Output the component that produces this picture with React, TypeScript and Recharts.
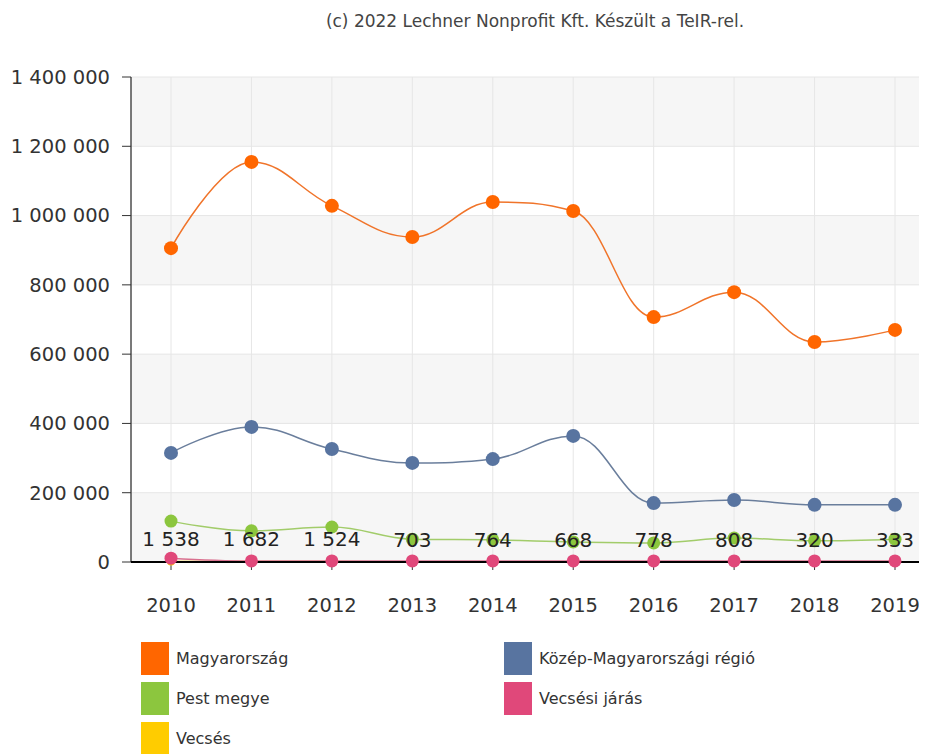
import React from 'react';
import { LineChart, Line, XAxis, YAxis, CartesianGrid, LabelList } from 'recharts';

const years = ['2010', '2011', '2012', '2013', '2014', '2015', '2016', '2017', '2018', '2019'];
const magyarorszag = [906000, 1155000, 1028000, 938000, 1039000, 1013000, 707000, 779000, 635000, 670000];
const kozepMagyar = [315000, 390000, 326000, 286000, 297000, 364000, 170000, 179000, 165000, 165000];
const pestMegye = [118000, 90000, 101000, 66000, 64000, 58000, 55000, 69000, 61000, 66000];
const vecsesiJaras = [11000, 3000, 3000, 3000, 3000, 3000, 3000, 3000, 3000, 3000];
const vecses = [1538, 1682, 1524, 703, 764, 668, 778, 808, 320, 333];
const yTicks = [0, 200000, 400000, 600000, 800000, 1000000, 1200000, 1400000];

const seriesNames = ['Magyarország', 'Közép-Magyarországi régió', 'Pest megye', 'Vecsési járás', 'Vecsés'];
const seriesColors = ['#FF6600', '#5874A0', '#8CC63E', '#E0487A', '#FFCC00'];

const data = years.map((y, i) => ({
  year: y,
  mo: magyarorszag[i],
  km: kozepMagyar[i],
  pm: pestMegye[i],
  vj: vecsesiJaras[i],
  v: vecses[i],
}));

const FONT = "'DejaVu Sans', sans-serif";

const fmt = (v: number) => String(v).replace(/\B(?=(\d{3})+(?!\d))/g, ' ');

// Highcharts-like spline curve
function hcSpline(context: any) {
  let pts: [number, number][] = [];
  return {
    areaStart() {},
    areaEnd() {},
    lineStart() {
      pts = [];
    },
    lineEnd() {
      const n = pts.length;
      if (!n) return;
      const sm = 1.5;
      const den = sm + 1;
      const rc: ([number, number] | undefined)[] = [];
      context.moveTo(pts[0][0], pts[0][1]);
      for (let i = 1; i < n; i++) {
        const [px, py] = pts[i];
        let left: [number, number] = [px, py];
        if (i < n - 1) {
          const [lx, ly] = pts[i - 1];
          const [nx, ny] = pts[i + 1];
          const lcx = (sm * px + lx) / den;
          let lcy = (sm * py + ly) / den;
          const rcx = (sm * px + nx) / den;
          let rcy = (sm * py + ny) / den;
          let corr = 0;
          if (rcx !== lcx) {
            corr = ((rcy - lcy) * (rcx - px)) / (rcx - lcx) + py - rcy;
          }
          lcy += corr;
          rcy += corr;
          if (lcy > ly && lcy > py) {
            lcy = Math.max(ly, py);
            rcy = 2 * py - lcy;
          } else if (lcy < ly && lcy < py) {
            lcy = Math.min(ly, py);
            rcy = 2 * py - lcy;
          }
          if (rcy > ny && rcy > py) {
            rcy = Math.max(ny, py);
            lcy = 2 * py - rcy;
          } else if (rcy < ny && rcy < py) {
            rcy = Math.min(ny, py);
            lcy = 2 * py - rcy;
          }
          left = [lcx, lcy];
          rc[i] = [rcx, rcy];
        }
        const prev = rc[i - 1] ?? pts[i - 1];
        context.bezierCurveTo(prev[0], prev[1], left[0], left[1], px, py);
      }
    },
    point(x: number, y: number) {
      pts.push([+x, +y]);
    },
  };
}

const dotFor = (color: string, r: number) => ({ r, fill: color, stroke: 'none', strokeWidth: 0 });

const legendRows = [
  { name: seriesNames[0], color: seriesColors[0], col: 0, row: 0 },
  { name: seriesNames[1], color: seriesColors[1], col: 1, row: 0 },
  { name: seriesNames[2], color: seriesColors[2], col: 0, row: 1 },
  { name: seriesNames[3], color: seriesColors[3], col: 1, row: 1 },
  { name: seriesNames[4], color: seriesColors[4], col: 0, row: 2 },
];

export default function App() {
  return (
    <div
      style={{
        position: 'relative',
        marginLeft: -8,
        marginTop: -8,
        width: 927,
        height: 754,
        overflow: 'hidden',
        background: '#fff',
        fontFamily: FONT,
      }}
    >
      <div
        style={{
          position: 'absolute',
          left: 0,
          width: 1070,
          top: 10,
          lineHeight: '22px',
          textAlign: 'center',
          fontSize: 17,
          color: '#444',
          whiteSpace: 'nowrap',
        }}
      >
        (c) 2022 Lechner Nonprofit Kft. Készült a TeIR-rel.
      </div>
      <div style={{ position: 'absolute', left: 0, top: 0 }}>
        <LineChart width={935} height={754} data={data} margin={{ top: 77, right: 0, bottom: 132, left: 0 }}>
          <CartesianGrid
            stroke="#E6E6E6"
            horizontalFill={['#F6F6F6', '#FFFFFF']}
            fillOpacity={1}
          />
          <XAxis
            dataKey="year"
            height={60}
            padding={{ left: 40, right: 40 }}
            axisLine={{ stroke: '#000', strokeWidth: 2 }}
            tickLine={{ stroke: '#333' }}
            tickSize={8}
            tickMargin={28}
            tick={{ fill: '#333', fontSize: 19.5, fontFamily: FONT }}
            interval={0}
          />
          <YAxis
            width={131}
            domain={[0, 1400000]}
            ticks={yTicks}
            interval={0}
            axisLine={{ stroke: '#000', strokeWidth: 1 }}
            tickLine={{ stroke: '#333' }}
            tickSize={9}
            tickMargin={12}
            tick={{ fill: '#333', fontSize: 19.5, fontFamily: FONT }}
            tickFormatter={fmt}
          />
          <Line
            dataKey="mo"
            name={seriesNames[0]}
            type={hcSpline as any}
            stroke="#F0742A"
            strokeWidth={1.5}
            dot={dotFor(seriesColors[0], 7)}
            activeDot={false}
            isAnimationActive={false}
          />
          <Line
            dataKey="km"
            name={seriesNames[1]}
            type={hcSpline as any}
            stroke="#6A7E9C"
            strokeWidth={1.5}
            dot={dotFor(seriesColors[1], 7)}
            activeDot={false}
            isAnimationActive={false}
          />
          <Line
            dataKey="pm"
            name={seriesNames[2]}
            type={hcSpline as any}
            stroke="#A2CC6A"
            strokeWidth={1.5}
            dot={dotFor(seriesColors[2], 6.5)}
            activeDot={false}
            isAnimationActive={false}
          />
          <Line
            dataKey="v"
            name={seriesNames[4]}
            type={hcSpline as any}
            stroke={seriesColors[4]}
            strokeWidth={1.5}
            dot={dotFor(seriesColors[4], 4)}
            activeDot={false}
            isAnimationActive={false}
          />
          <Line
            dataKey="vj"
            name={seriesNames[3]}
            type={hcSpline as any}
            stroke="#D9708F"
            strokeWidth={1.5}
            dot={dotFor(seriesColors[3], 6.5)}
            activeDot={false}
            isAnimationActive={false}
          />
          <Line
            dataKey="v"
            name="labels"
            legendType="none"
            stroke="none"
            dot={false}
            activeDot={false}
            isAnimationActive={false}
          >
            <LabelList
              dataKey="v"
              position="top"
              offset={15}
              formatter={(v: any) => fmt(Number(v))}
              style={{ fill: '#222', fontSize: 20, fontFamily: FONT }}
            />
          </Line>
        </LineChart>
      </div>
      {legendRows.map((it) => (
        <div
          key={it.name}
          style={{
            position: 'absolute',
            left: it.col === 0 ? 141 : 504,
            top: 642 + it.row * 40,
            height: 33,
            display: 'flex',
            alignItems: 'center',
            whiteSpace: 'nowrap',
          }}
        >
          <div style={{ width: 28, height: 33, background: it.color }} />
          <span style={{ marginLeft: 7, fontSize: 16, color: '#333' }}>{it.name}</span>
        </div>
      ))}
    </div>
  );
}
